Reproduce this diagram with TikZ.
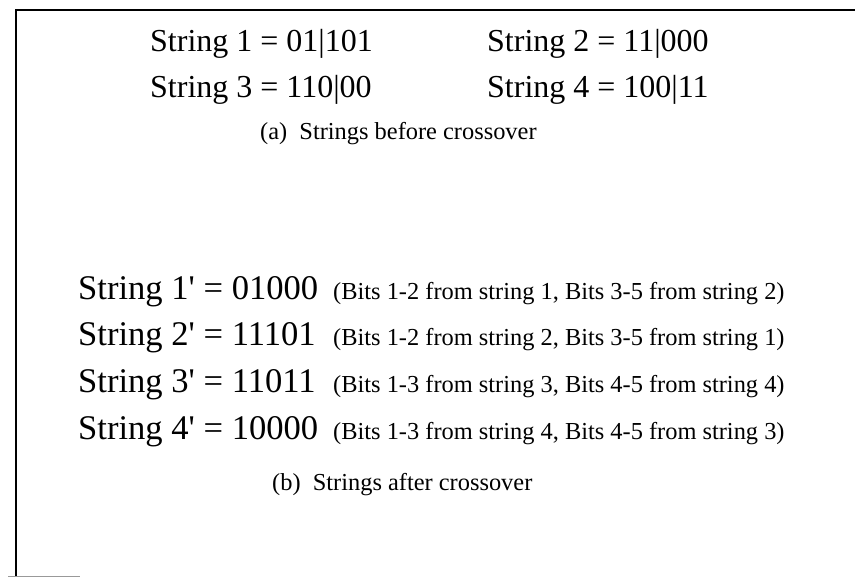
\documentclass[tikz,border=0pt]{standalone}
\usepackage{fontspec}
\setmainfont{Liberation Serif}
\begin{document}
\begin{tikzpicture}[x=1pt,y=-1pt,
  big/.style={inner sep=0pt,anchor=base west,font=\fontsize{32}{38}\selectfont},
  bigger/.style={inner sep=0pt,anchor=base west,font=\fontsize{34.6}{40}\selectfont},
  small/.style={inner sep=0pt,anchor=base west,font=\fontsize{24.4}{28}\selectfont},
  frame/.style={line width=1.3pt,black}]
\useasboundingbox (0,0) rectangle (855,577);
% frame
\draw[frame] (16,577) -- (16,10) -- (855,10);
\draw[line width=0.8pt,black!40] (8,576) -- (80,576);
% before crossover
\node[big] (s1) at (150,52) {String 1 = 01|101};
\node[big] (s2) at (487,52) {String 2 = 11|000};
\node[big] (s3) at (150,98) {String 3 = 110|00};
\node[big] (s4) at (487,98) {String 4 = 100|11};
\node[small] (capa) at (260,140) {(a)\ \ Strings before crossover};
% after crossover
\node[bigger] (t1) at (78,300) {String 1\textquotesingle\ = 01000};
\node[bigger] (t2) at (78,346) {String 2\textquotesingle\ = 11101};
\node[bigger] (t3) at (78,393) {String 3\textquotesingle\ = 11011};
\node[bigger] (t4) at (78,440) {String 4\textquotesingle\ = 10000};
\node[small] (p1) at (333,300) {(Bits 1-2 from string 1, Bits 3-5 from string 2)};
\node[small] (p2) at (333,346) {(Bits 1-2 from string 2, Bits 3-5 from string 1)};
\node[small] (p3) at (333,393) {(Bits 1-3 from string 3, Bits 4-5 from string 4)};
\node[small] (p4) at (333,440) {(Bits 1-3 from string 4, Bits 4-5 from string 3)};
\node[small] (capb) at (272,490) {(b)\ \ Strings after crossover};
\end{tikzpicture}
\end{document}
